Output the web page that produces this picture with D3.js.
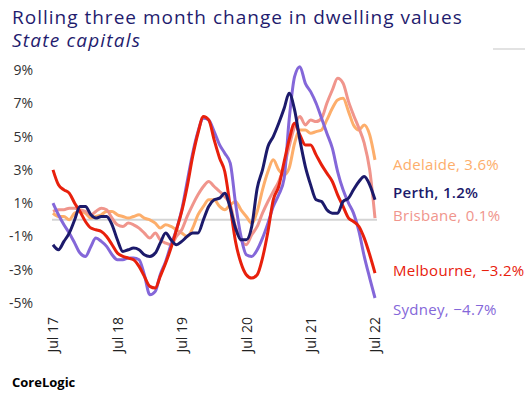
<!DOCTYPE html>
<html>
<head>
<meta charset="utf-8">
<script src="https://cdn.jsdelivr.net/npm/d3@7"></script>
<style>
  body { margin: 0; background: #fff; }
  text { font-family: "Open Sans", sans-serif; }
</style>
</head>
<body>
<div id="chart1"></div>
<script>
// monthly rolling 3 month change, Jul 2017 .. Jul 2022 (61 months)
let sydney = [1.0, 0.3, -0.3, -0.8, -1.4, -2.0, -2.2, -1.6, -1.1, -1.3, -1.6, -2.1, -2.4, -2.4, -2.3, -2.3, -2.4, -3.3, -4.5, -4.3,
    -3.3, -2.5, -1.5, -0.6, 0.6, 2.3, 4.0, 5.3, 6.1, 6.0, 5.3, 4.5, 4.0, 3.4, 1.0, -1.0, -2.1, -2.2, -1.8, -1.1,
    -0.2, 0.8, 1.5, 2.5, 6.0, 8.6, 9.2, 8.2, 7.7, 7.0, 6.1, 5.2, 4.3, 2.9, 1.8, 1.0, 0.4, -0.7, -2.2, -3.5, -4.7];
let melbourne = [3.0, 2.1, 1.8, 1.6, 1.0, 0.5, -0.1, -0.5, -0.6, -0.7, -1.0, -1.5, -2.0, -2.2, -2.3, -2.4, -2.8, -3.4, -4.0, -4.1,
    -3.4, -2.6, -1.7, -0.6, 0.5, 2.0, 3.8, 5.2, 6.2, 6.0, 4.8, 3.7, 2.9, 0.8, -1.3, -2.6, -3.3, -3.5, -3.3, -2.3,
    -0.7, 1.2, 2.0, 3.5, 4.8, 5.8, 5.1, 4.5, 4.5, 3.9, 3.3, 2.8, 2.3, 1.5, 0.8, 0.1, -0.1, -0.4, -1.1, -2.1, -3.2];
let brisbane = [0.5, 0.6, 0.6, 0.7, 0.7, 0.6, 0.5, 0.3, 0.5, 0.7, 0.6, 0.1, -0.3, -0.4, -0.2, -0.3, -0.5, -0.8, -1.1, -0.8,
    -1.2, -1.4, -1.5, -1.0, -0.6, 0.2, 0.9, 1.5, 2.0, 2.3, 2.0, 1.7, 1.4, 0.9, -0.4, -1.2, -1.5, -0.9, -0.4, 0.4,
    1.1, 1.7, 2.3, 3.2, 4.4, 5.6, 6.2, 5.7, 6.0, 5.9, 6.1, 7.0, 7.8, 8.5, 8.2, 7.1, 6.3, 5.5, 4.6, 3.0, 0.1];
let adelaide = [0.4, 0.2, 0.2, 0.0, 0.4, 0.5, 0.4, 0.1, 0.2, 0.3, 0.5, 0.5, 0.3, 0.2, 0.1, 0.2, 0.3, 0.1, 0.0, -0.2,
    -0.5, -0.3, -0.4, -0.6, -0.8, -1.0, -0.5, 0.3, 0.8, 1.2, 1.2, 0.8, 0.6, 0.9, 1.1, 0.6, 0.2, -0.2, 0.5, 1.8,
    2.9, 3.6, 3.0, 2.7, 3.1, 4.6, 5.4, 5.4, 5.2, 5.3, 5.4, 6.0, 6.7, 7.2, 7.3, 6.5, 5.7, 5.4, 5.7, 5.1, 3.6];
let perth = [-1.5, -1.8, -1.3, -0.8, 0.0, 0.8, 0.8, 0.3, 0.1, 0.2, 0.2, -0.3, -1.2, -1.9, -1.8, -1.7, -1.8, -2.1, -2.2, -2.0,
    -1.4, -0.8, -1.2, -1.5, -1.3, -1.0, -0.8, -0.8, 0.0, 0.8, 1.2, 1.3, 1.6, 0.7, -0.5, -1.2, -1.2, -0.4, 1.9, 3.0,
    4.4, 5.0, 5.8, 6.7, 7.6, 6.6, 4.8, 3.2, 2.1, 1.2, 1.1, 0.6, 0.4, 0.4, 1.1, 1.3, 1.8, 2.3, 2.6, 2.1, 1.2];

let yTicks = [-5, -3, -1, 1, 3, 5, 7, 9];
let xTickLabels = ["Jul 17", "Jul 18", "Jul 19", "Jul 20", "Jul 21", "Jul 22"];
let cities = ["Adelaide", "Brisbane", "Sydney", "Melbourne", "Perth"];
let endLabels = ["Adelaide, 3.6%", "Brisbane, 0.1%", "Sydney, \u22124.7%", "Melbourne, \u22123.2%", "Perth, 1.2%"];
let labelY = [170, 221, 315, 276, 198];

let width = 525;
let height = 399;
let colors = {
    Adelaide: "#fdae6b",
    Brisbane: "#f0958c",
    Sydney: "#8467d9",
    Melbourne: "#e8200c",
    Perth: "#1c1a6b"
};
let seriesData = {
    Adelaide: adelaide,
    Brisbane: brisbane,
    Sydney: sydney,
    Melbourne: melbourne,
    Perth: perth
};

let months = d3.range(61).map(i => new Date(2017, 6 + i, 1));

let x = d3.scaleTime()
    .domain([months[0], months[60]])
    .range([53, 375]);
let y = d3.scaleLinear()
    .domain([-5, 9])
    .range([303, 70]);

let svg = d3.select("#chart1")
    .append("svg")
    .attr("width", width)
    .attr("height", height);

// title
svg.append("text")
    .attr("x", 12)
    .attr("y", 24)
    .style("fill", "#1f1c6e")
    .style("font-size", "19px")
    .style("letter-spacing", "1px")
    .text("Rolling three month change in dwelling values");
svg.append("text")
    .attr("x", 12)
    .attr("y", 47)
    .style("fill", "#1f1c6e")
    .style("font-size", "19px")
    .style("letter-spacing", "1.2px")
    .style("font-style", "italic")
    .text("State capitals");

svg.append("line")
    .attr("x1", 493).attr("x2", 525)
    .attr("y1", 49).attr("y2", 49)
    .style("stroke", "#d9d9d9")
    .style("stroke-width", 1.5);

// y axis labels
let yAxis = svg.append("g")
    .attr("transform", "translate(38,0)")
    .call(d3.axisLeft(y).tickValues(yTicks).tickSize(0).tickPadding(5)
        .tickFormat(d => (d < 0 ? "-" : "") + Math.abs(d) + "%"));
yAxis.select(".domain").remove();
yAxis.selectAll("text")
    .style("font-family", "'Open Sans', sans-serif")
    .style("font-size", "14px")
    .style("fill", "#333");

// x axis labels, rotated
let xAxis = svg.append("g")
    .attr("transform", "translate(0,312)")
    .call(d3.axisBottom(x)
        .tickValues(d3.range(6).map(i => months[i * 12]))
        .tickSize(0)
        .tickFormat((d, i) => xTickLabels[i]));
xAxis.select(".domain").remove();
xAxis.selectAll("text")
    .attr("transform", "rotate(-90)")
    .attr("x", -5)
    .attr("y", 0)
    .attr("dy", "0.35em")
    .style("text-anchor", "end")
    .style("font-family", "'Open Sans', sans-serif")
    .style("font-size", "14px")
    .style("fill", "#222");

// zero line
svg.append("line")
    .attr("x1", 52).attr("x2", 377)
    .attr("y1", y(0)).attr("y2", y(0))
    .style("stroke", "#d4d4d4")
    .style("stroke-width", 2);

let line = d3.line()
    .x((d, i) => x(months[i]))
    .y(d => y(d))
    .curve(d3.curveMonotoneX);

cities.forEach(function (c) {
    svg.append("path")
        .datum(seriesData[c])
        .attr("d", line)
        .style("fill", "none")
        .style("stroke", colors[c])
        .style("stroke-width", 3)
        .style("stroke-linejoin", "round");
});

// end labels
cities.forEach(function (c, i) {
    svg.append("text")
        .attr("x", 393)
        .attr("y", labelY[i])
        .style("fill", colors[c])
        .style("font-size", "15px")
        .style("letter-spacing", "0.3px")
        .style("font-weight", c == "Perth" ? 600 : 500)
        .text(endLabels[i]);
});

svg.append("text")
    .attr("x", 12)
    .attr("y", 387)
    .style("fill", "#000")
    .style("font-size", "13px")
    .style("font-weight", "bold")
    .text("CoreLogic");
</script>
</body>
</html>
